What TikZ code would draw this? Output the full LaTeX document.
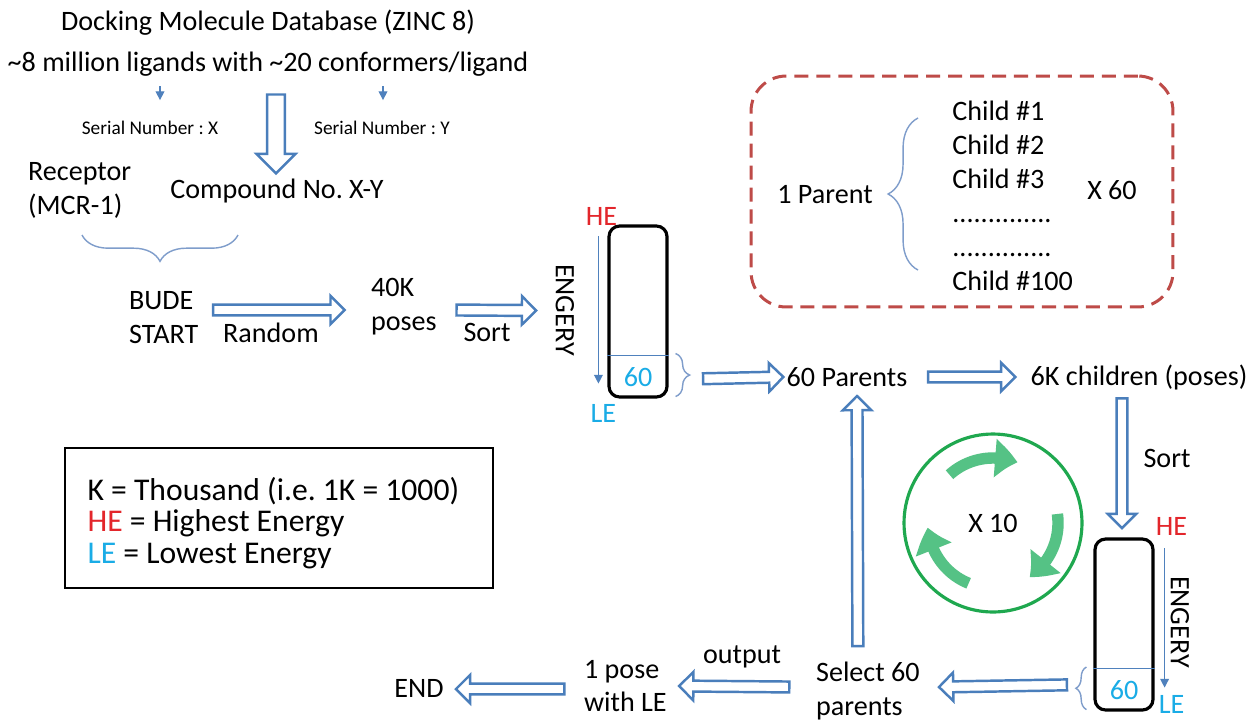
\documentclass[tikz,border=0pt]{standalone}
\usepackage{fontspec}
\setmainfont{Carlito}
\usetikzlibrary{positioning}
\usetikzlibrary{calc}
\usetikzlibrary{arrows.meta}
\usetikzlibrary{bending}
\usetikzlibrary{shapes.arrows}
\usetikzlibrary{decorations.pathreplacing}
\definecolor{flow-blue}{HTML}{4A7EBB}
\definecolor{pin-blue}{HTML}{4F81BD}
\definecolor{brace-blue}{HTML}{7F9DCB}
\definecolor{he-red}{HTML}{E3262B}
\definecolor{le-cyan}{HTML}{1AACE6}
\definecolor{box-red}{HTML}{BE4B48}
\definecolor{loop-green}{HTML}{1FA84F}
\definecolor{turn-green}{HTML}{55C285}
\newcommand{\childdots}{..............}
\frenchspacing

\begin{document}
\begin{tikzpicture}[x=0.02cm, y=-0.02cm,
  font=\fontsize{16}{19.3}\selectfont,
  text only/.style={inner sep=1pt, align=center},
  small/.style={inner sep=1pt, font=\fontsize{11}{12}\selectfont},
  hollow head/.style={single arrow, draw=flow-blue, fill=white, line width=1.4pt,
    inner xsep=0pt, inner ysep=2.4pt, single arrow head extend=5pt,
    single arrow tip angle=90},
  hollow/.style={to path={let \p1=(\tikztostart), \p2=(\tikztotarget),
    \n1={veclen(\x2-\x1,\y2-\y1)}, \n2={atan2(\y2-\y1,\x2-\x1)} in
    node[hollow head, minimum height=\n1, rotate=\n2, #1] at ($(\p1)!.5!(\p2)$) {}}},
  hollow/.default={},
  pin/.style={draw=pin-blue, line width=0.7pt, -{Triangle[width=5pt, length=5pt]}},
  brace/.style={draw=brace-blue, line width=0.8pt, decorate, decoration={brace, amplitude=#1}},
  bar/.style={draw, line width=1.8pt, rounded corners=6pt, minimum width=1.16cm,
    minimum height=3.42cm, inner sep=0pt},
  he/.style={text=he-red, inner sep=1pt},
  le/.style={text=le-cyan, inner sep=1pt},
  turn/.style={draw=turn-green, line width=6.5pt, -{Triangle[bend, width=21pt, length=13pt]}},
]
\useasboundingbox (0,0) rectangle (1250,721);
\fill[white] (0,0) rectangle (1250,721);

% database and compound
\node[text only, font=\fontsize{16}{23}\selectfont]
  (db)
  at (268,43)
  {Docking Molecule Database (ZINC 8)\\\textasciitilde8 million ligands with \textasciitilde20 conformers/ligand};
\node[small] (serial-x) at (150,128) {Serial Number : X};
\node[small] (serial-y) at (382,128) {Serial Number : Y};
\coordinate (pick-x) at (160,86);
\coordinate (pick-y) at (383,86);
\coordinate (pick-xy) at (276,90);
\draw[pin] (pick-x) -- ($(pick-x |- serial-x.north)+(0,-19)$);
\draw[pin] (pick-y) -- ($(pick-y |- serial-y.north)+(0,-19)$);
\node[text only, align=left, anchor=west] (receptor) at (26,190) {Receptor\\(MCR-1)};
\node[text only] (compound) at (277,191) {Compound No. X-Y};
\draw[hollow={inner ysep=4.4pt, single arrow head extend=6pt}]
  (pick-xy) to ($(compound.north -| pick-xy)+(0,-8)$);
\draw[brace=15pt] (238,235) -- (82,235);

% first sort
\node[text only, align=left, anchor=west] (start) at (127,318) {BUDE\\START};
\node[text only] (random) at (271,333) {Random};
\node[text only, align=left, anchor=west] (poses) at (369,307) {40K\\poses};
\node[text only] (sort-one) at (487,332) {Sort};
\node[bar] (bar-one) at (638,311.5) {};
\node[rotate=-90, inner sep=1pt] (engery-one) at (565,310) {ENGERY};
\node[he] (he-one) at ($(bar-one.north west)+(-6,-8)$) {HE};
\node[le] (le-one) at ($(bar-one.south west)+(-4,15)$) {LE};
\node[le] (sixty-one) at ($(bar-one.south)!0.125!(bar-one.north)$) {60};
\draw[pin-blue, line width=0.6pt] ($(bar-one.south west)!0.25!(bar-one.north west)$)
  -- ($(bar-one.south east)!0.25!(bar-one.north east)$);
\draw[pin] ($(bar-one.north west)+(-9,12)$) -- ($(bar-one.south west)+(-9,-15)$);
\draw[brace=8pt] ($(bar-one.east)+(7,42)$) -- ($(bar-one.south east)+(7,-2)$);
\draw[hollow] ($(start.east)+(10,-8)$) to ($(poses.west)+(-27,3)$);
\draw[hollow] ($(poses.east)+(15,3)$) to ($(bar-one.west)+(-74,-1)$);

% parents and children
\node[text only] (parents) at (847,377) {60 Parents};
\node[text only] (children) at (1139,377) {6K children (poses)};
\draw[hollow] ($(sixty-one.east)+(46,2)$) to ($(parents.west)+(-4,0)$);
\draw[hollow] ($(parents.east)+(16,0)$) to ($(children.west)+(-16,0)$);

% second sort
\node[bar] (bar-two) at (1124,624.5) {};
\node[text only] (sort-two) at (1167,458) {Sort};
\node[rotate=-90, inner sep=1pt] (engery-two) at (1180,622) {ENGERY};
\node[he] (he-two) at ($(bar-two.north east)+(17,-11)$) {HE};
\node[le] (le-two) at ($(bar-two.south east)+(17,-7)$) {LE};
\node[le] (sixty-two) at ($(bar-two.south)!0.125!(bar-two.north)$) {60};
\draw[pin-blue, line width=0.6pt] ($(bar-two.south west)!0.25!(bar-two.north west)$)
  -- ($(bar-two.south east)!0.25!(bar-two.north east)$);
\draw[pin] ($(bar-two.north east)+(10,11)$) -- ($(bar-two.south east)+(10,-24)$);
\draw[brace=6pt] ($(bar-two.south west)+(-7,-2)$) -- ($(bar-two.west)+(-7,42.5)$);
\draw[hollow] ($(children.south)+(-17,4)$) to ($(bar-two.north)+(-2,-12)$);

% selection and output
\node[text only, align=left, anchor=west] (select) at (814,691) {Select 60\\parents};
\node[text only] (output) at (742,657) {output};
\node[text only, align=left, anchor=west] (pose) at (582,686) {1 pose\\with LE};
\node[text only] (end) at (419,688) {END};
\draw[hollow] ($(sixty-two.west)+(-38,-5)$) to ($(select.east)+(20,-4)$);
\draw[hollow] ($(select.north)+(-10,-11)$) to ($(parents.south)+(10,10)$);
\draw[hollow] ($(select.west)+(-22,-4)$) to ($(pose.east)+(13,0)$);
\draw[hollow] ($(pose.west)+(-15,3)$) to ($(end.east)+(13,1)$);

% loop
\node[circle, draw=loop-green, line width=1.8pt, minimum size=3.56cm, inner sep=0pt]
  (loop) at (993,523) {X 10};
\draw[turn] ($(loop.center)+(132:37pt)$) arc[start angle=132, end angle=68, radius=37pt];
\draw[turn] ($(loop.center)+(8:37pt)$) arc[start angle=8, end angle=-56, radius=37pt];
\draw[turn] ($(loop.center)+(-112:37pt)$) arc[start angle=-112, end angle=-176, radius=37pt];

% legend
\node[draw, line width=0.9pt, minimum width=8.56cm, minimum height=2.8cm]
  (legend)
  at (279,518)
  {};
\node[anchor=west, align=left, inner sep=0pt, font=\fontsize{18}{17.8}\selectfont]
  (legend-text)
  at ($(legend.west)+(23,5)$)
  {K = Thousand (i.e. 1K = 1000)\\\textcolor{he-red}{HE} = Highest Energy\\\textcolor{le-cyan}{LE} = Lowest Energy};

% one parent, many children
\node[draw=box-red, line width=1.7pt, dash pattern=on 8pt off 4.5pt, rounded corners=20pt,
  minimum width=8.44cm, minimum height=4.62cm]
  (family)
  at (962,191.5)
  {};
\node[text only] (parent) at (825,195) {1 Parent};
\draw[brace=17pt] (918,270) -- (918,118);
\foreach \i/\txt in {0/Child \#1, 1/Child \#2, 2/Child \#3,
    3/\childdots, 4/\childdots, 5/Child \#100} {
  \node[anchor=base west, inner sep=0pt] (child-\i) at (952,120+34*\i) {\txt};
}
\node[text only] (times) at (1112,190) {X 60};
\end{tikzpicture}
\end{document}
